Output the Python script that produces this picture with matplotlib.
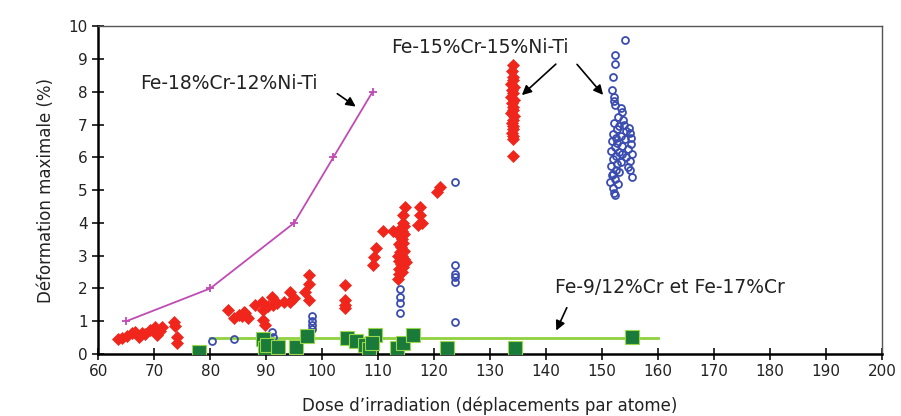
import numpy as np
import matplotlib.pyplot as plt

# Fe-18%Cr-12%Ni-Ti (courbe)
courbe_x = [65, 80, 95, 102, 109]
courbe_y = [1.0, 2.0, 4.0, 6.0, 8.0]

# Fe-15%Cr-15%Ni-Ti (losanges rouges pleins)
rouge_x = [63.6, 64.2, 65.2, 66.0, 66.6, 67.2, 67.8, 68.4, 69.3, 70.2, 70.5, 71.0, 71.4,
           73.6, 73.7, 74.0, 74.0,
           83.2, 84.2, 85.1, 85.7, 86.3, 86.8, 86.0, 88.0, 89.2, 89.5, 89.5, 89.8, 90.3,
           91.0, 91.3, 92.0, 93.1, 94.3, 94.3, 95.0, 97.0, 97.6, 97.6, 97.7,
           104.0, 104.0, 104.0, 104.0,
           109.0, 109.2, 109.7, 110.8, 112.7,
           113.6, 113.8, 114.2, 113.7, 114.5, 114.0, 113.8, 114.6, 114.2, 113.9, 114.7,
           114.1, 113.8, 114.5, 114.2, 113.9, 114.7, 114.3, 114.0, 114.6, 114.4, 113.5,
           114.9, 114.5, 114.8,
           117.5, 117.5, 117.2, 117.8, 120.5, 121.1,
           134.0, 133.9, 134.0, 134.1, 133.8, 134.2, 133.9, 134.1, 133.8, 134.2, 133.9,
           134.1, 134.0, 133.8, 134.2, 134.0, 133.9, 134.1, 134.0, 133.9, 134.0, 134.0,
           134.0]
rouge_y = [0.46, 0.50, 0.55, 0.63, 0.68, 0.53, 0.63, 0.60, 0.73, 0.83, 0.58, 0.70, 0.83,
           0.97, 0.85, 0.53, 0.33,
           1.34, 1.09, 1.19, 1.15, 1.24, 1.09, 1.29, 1.49, 1.60, 1.34, 1.04, 0.88, 1.45,
           1.75, 1.49, 1.55, 1.60, 1.90, 1.60, 1.70, 1.90, 2.41, 2.15, 1.65,
           2.10, 1.65, 1.50, 1.39,
           2.71, 2.97, 3.22, 3.76, 3.76,
           2.30, 2.45, 2.50, 2.60, 2.65, 2.75, 2.85, 2.90, 3.00, 3.10, 3.15,
           3.25, 3.35, 3.40, 3.50, 3.60, 3.65, 3.75, 3.85, 3.90, 4.00, 3.00,
           2.80, 4.24, 4.49,
           4.49, 4.24, 3.93, 4.00, 4.95, 5.10,
           8.81, 8.62, 8.45, 8.35, 8.25, 8.15, 8.05, 7.95, 7.85, 7.75, 7.65,
           7.55, 7.45, 7.35, 7.25, 7.15, 7.05, 6.95, 6.85, 6.75, 6.65, 6.55,
           6.05]

# Fe-15%Cr-15%Ni-Ti (cercles bleus)
bleu_x = [80.3, 84.3, 91.1, 91.3, 98.2, 98.2, 98.2, 98.2,
          113.9, 113.9, 113.9, 113.9,
          123.75, 123.75, 123.75, 123.75, 123.75, 123.75,
          154.1, 152.3, 152.3, 152.0, 151.7, 152.1, 152.1, 152.3, 153.4, 153.6, 152.9,
          153.8, 152.2, 153.0, 152.6, 154.3, 155.0, 152.0, 153.3, 154.0, 151.8, 152.7,
          155.2, 153.5, 152.3, 154.6, 151.6, 153.0, 152.5, 154.2, 155.0, 152.0, 153.4,
          151.5, 154.6, 152.4, 153.0, 151.7, 155.4, 152.3, 151.4, 152.8, 151.9, 152.1,
          152.3, 155.2, 155.3, 154.8, 153.9, 152.4, 153.6, 154.9, 151.9, 152.6]
bleu_y = [0.40, 0.46, 0.68, 0.53, 1.16, 1.02, 0.88, 0.75,
          1.97, 1.75, 1.55, 1.24,
          5.25, 2.73, 2.44, 2.36, 2.20, 0.97,
          9.59, 9.12, 8.86, 8.45, 8.05, 7.85, 7.72, 7.59, 7.50, 7.39, 7.24,
          7.15, 7.05, 6.95, 6.85, 6.80, 6.75, 6.70, 6.65, 6.55, 6.50, 6.45,
          6.40, 6.35, 6.30, 6.25, 6.20, 6.15, 6.05, 6.00, 5.90, 5.95, 5.85,
          5.75, 5.70, 5.60, 5.55, 5.45, 5.41, 5.35, 5.25, 5.20, 5.05, 4.92,
          4.85, 6.60, 6.10, 6.90, 7.00, 6.60, 6.10, 5.60, 5.50, 5.80]

# Fe-9/12%Cr et Fe-17%Cr (carrés verts)
vert_x = [78.0, 89.5, 89.7, 90.2, 92.1, 95.3, 97.3, 104.4, 106.0, 107.7, 108.3,
          109.5, 108.9, 113.3, 114.5, 116.3, 122.3, 134.5, 155.3]
vert_y = [0.07, 0.45, 0.17, 0.27, 0.20, 0.20, 0.54, 0.50, 0.40, 0.27, 0.15,
          0.58, 0.33, 0.17, 0.33, 0.58, 0.17, 0.17, 0.52]
ligne_x = [80, 160]
ligne_y = [0.5, 0.5]

fig = plt.figure(figsize=(9.01, 4.16), dpi=100)
ax = fig.add_axes([0.109, 0.149, 0.870, 0.788])

ax.plot(ligne_x, ligne_y, color='#8fd13f', lw=2, zorder=2)
ax.plot(courbe_x, courbe_y, color='#c04bb5', lw=1.3, marker='+', ms=6, mew=1.3, zorder=3)
ax.plot(rouge_x, rouge_y, ls='none', marker='D', ms=6.5, color='#f0261c',
        mec='#f0261c', mew=0.5, zorder=4)
ax.plot(bleu_x, bleu_y, ls='none', marker='o', ms=5, mfc='none', mec='#3a4cb0',
        mew=1.3, zorder=5)
ax.plot(vert_x, vert_y, ls='none', marker='s', ms=10, color='#197a3a',
        mec='#9ad84a', mew=0.8, zorder=6)

fs = 13.5
ax.text(67.5, 8.26, 'Fe-18%Cr-12%Ni-Ti', fontsize=fs, ha='left', va='center', color='#222222')
ax.text(128.2, 9.36, 'Fe-15%Cr-15%Ni-Ti', fontsize=fs, ha='center', va='center', color='#222222')
ax.text(141.6, 2.04, 'Fe-9/12%Cr et Fe-17%Cr', fontsize=fs, ha='left', va='center', color='#222222')

fleche = dict(arrowstyle='-|>', color='black', lw=1.2, mutation_scale=14)
ax.annotate('', xy=(106.4, 7.5), xytext=(102.3, 7.99), arrowprops=fleche)
ax.annotate('', xy=(135.3, 7.84), xytext=(142.1, 8.9), arrowprops=fleche)
ax.annotate('', xy=(150.5, 7.84), xytext=(145.2, 8.9), arrowprops=fleche)
ax.annotate('', xy=(141.6, 0.64), xytext=(143.9, 1.49), arrowprops=fleche)

ax.set_xlim(60, 200)
ax.set_ylim(0, 10)
ax.set_xticks(np.arange(60, 201, 10))
ax.set_yticks(np.arange(0, 11, 1))
ax.tick_params(direction='inout', length=8, width=1.3, labelsize=11, colors='#222222')
for s in ['left', 'bottom']:
    ax.spines[s].set_linewidth(1.8)
for s in ['top', 'right']:
    ax.spines[s].set_linewidth(1.0)
    ax.spines[s].set_color('#555555')

ax.set_xlabel('Dose d\u2019irradiation (déplacements par atome)', fontsize=12, color='#222222', labelpad=12)
ax.set_ylabel('Déformation maximale (%)', fontsize=12, color='#222222', labelpad=10)

fig.savefig('out.png', dpi=100)
